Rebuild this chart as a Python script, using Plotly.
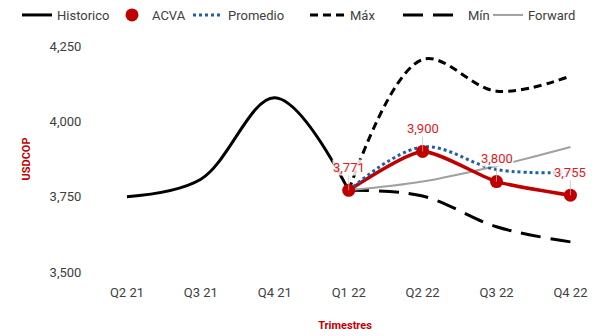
import plotly.graph_objects as go

# Quarters on the category axis
quarters = ["Q2 21", "Q3 21", "Q4 21", "Q1 22", "Q2 22", "Q3 22", "Q4 22"]
forecast_q = ["Q1 22", "Q2 22", "Q3 22", "Q4 22"]

# USDCOP series
historico = [3750, 3808, 4078, 3771]
acva = [3771, 3900, 3800, 3755]
promedio = [3771, 3915, 3840, 3830]
maximo = [3771, 4205, 4100, 4150]
minimo = [3771, 3752, 3650, 3600]
forward = [3771, 3800, 3852, 3915]

RED = "#C00000"
LABEL_RED = "#E0191E"
TXT = "#404040"
FONT = "Roboto"

L_MARGIN, PLOT_W = 90, 510


def px_to_paper(px):
    return (px - L_MARGIN) / PLOT_W


fig = go.Figure()

fig.add_trace(go.Scatter(
    x=quarters[:4], y=historico, name="Historico", mode="lines",
    line=dict(color="black", width=3, shape="spline", smoothing=1.0),
    legend="legend"))
fig.add_trace(go.Scatter(
    x=forecast_q, y=maximo, name="Máx", mode="lines",
    line=dict(color="black", width=3, dash="8px,5px", shape="spline", smoothing=1.0),
    legend="legend4"))
fig.add_trace(go.Scatter(
    x=forecast_q, y=minimo, name="Mín", mode="lines",
    line=dict(color="black", width=3, dash="20px,10px", shape="spline", smoothing=1.0),
    legend="legend5"))
fig.add_trace(go.Scatter(
    x=forecast_q, y=forward, name="Forward", mode="lines",
    line=dict(color="#A0A0A0", width=2, shape="spline", smoothing=1.0),
    legend="legend6"))
fig.add_trace(go.Scatter(
    x=forecast_q, y=acva, name="ACVA", mode="lines", showlegend=False,
    line=dict(color=RED, width=3.5, shape="spline", smoothing=0.6)))
fig.add_trace(go.Scatter(
    x=forecast_q, y=promedio, name="Promedio", mode="lines",
    line=dict(color="#1F5FA8", width=3, dash="dot", shape="spline", smoothing=1.0),
    legend="legend3"))
# ACVA points, drawn above the other lines
fig.add_trace(go.Scatter(
    x=forecast_q, y=acva, name="ACVA", mode="markers",
    marker=dict(color=RED, size=13), legend="legend2"))

# Value labels for ACVA
for q, v in zip(forecast_q, acva):
    fig.add_annotation(
        x=q, y=v, text=f"{v:,}", showarrow=True, arrowhead=0,
        arrowcolor="rgba(190,190,190,0.7)", arrowwidth=1,
        ax=0, ay=-23, font=dict(family=FONT, size=13, color=LABEL_RED),
        bgcolor="rgba(255,255,255,0.85)", borderpad=0)

# One legend box per entry so the row can be spaced freely
legend_slots = {
    "legend": (17, 30),
    "legend2": (112, 30),
    "legend3": (188, 30),
    "legend4": (305, 35),
    "legend5": (398, 60),
    "legend6": (488, 30),
}
legend_layout = {}
for key, (px, iw) in legend_slots.items():
    legend_layout[key] = dict(
        orientation="h", x=px_to_paper(px), xanchor="left",
        y=1.135, yanchor="middle", itemwidth=iw,
        bgcolor="rgba(0,0,0,0)", borderwidth=0,
        font=dict(family=FONT, size=13, color=TXT))

fig.update_layout(
    width=600, height=336,
    margin=dict(l=L_MARGIN, r=0, t=45, b=64),
    paper_bgcolor="white", plot_bgcolor="white",
    font=dict(family=FONT, size=13, color=TXT),
    showlegend=True,
    **legend_layout,
    xaxis=dict(
        type="category", categoryorder="array", categoryarray=quarters,
        range=[-0.5, 6.4], showgrid=False, zeroline=False, showline=False,
        ticks="outside", ticklen=8, tickcolor="rgba(0,0,0,0)",
        tickfont=dict(family=FONT, size=13, color=TXT),
        title=dict(text="<b>Trimestres</b>", standoff=22,
                   font=dict(family=FONT, size=11, color=RED))),
    yaxis=dict(
        range=[3500, 4250], tickvals=[3500, 3750, 4000, 4250], tickformat=",",
        showgrid=False, zeroline=False, showline=False,
        ticks="outside", ticklen=5, tickcolor="rgba(0,0,0,0)",
        tickfont=dict(family=FONT, size=13, color=TXT),
        title=dict(text="<b>USDCOP</b>", standoff=16,
                   font=dict(family=FONT, size=11, color=RED))),
)

fig.write_html("out.html")
